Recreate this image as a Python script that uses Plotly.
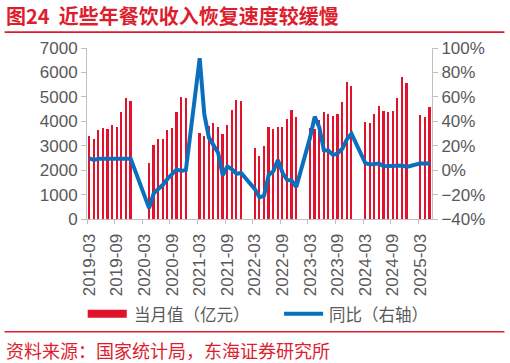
import plotly.graph_objects as go

# ---- data ----
months = []
for yr in range(2019, 2026):
    for m in range(1, 13):
        if (yr == 2019 and m < 3) or (yr == 2025 and m > 5):
            continue
        months.append(f"{yr}-{m:02d}")

revenue_2019 = [3390, 3283, 3639, 3721, 3666, 3858, 3776, 4391, 4966, 4843]
revenue_2020 = [None, None, None, 2298, 3023, 3283, 3283, 3639, 3721, 4391, 4993, 4966]
revenue_2021 = [None, None, 3502, 3379, 3817, 3926, 3748, 3461, 3830, 4473, 4856, 4843]
revenue_2022 = [None, None, 2927, 2599, 2996, 3762, 3680, 3748, 3762, 4104, 4446, 4172]
revenue_2023 = [None, None, 3722, 3684, 4062, 4390, 4295, 4213, 4290, 4802, 5595, 5431]
revenue_2024 = [None, None, 3981, 3926, 4282, 4610, 4419, 4364, 4432, 4952, 5814, 5568]
revenue_2025 = [None, None, 4241, 4172, 4583]

yoy_2019 = [9.7, 8.4, 9.3, 9.4, 9.4, 9.4, 9.4, 9.0, 9.2, 9.4]
yoy_2020 = [None, None, None, -31.1, -19.0, -15.5, -12.0, -7.2, -3.0, 0.6, -0.6, 0.2]
yoy_2021 = [None, None, 91.6, 45.8, 26.6, 20.4, 14.3, -4.2, 2.9, 0.8, -3.0, -2.3]
yoy_2022 = [None, None, -15.5, -22.4, -20.8, -3.9, -1.0, 8.4, -2.1, -8.0, -8.5, -13.8]
yoy_2023 = [None, None, 26.8, 43.8, 35.1, 16.3, 15.9, 12.4, 13.8, 17.5, 25.3, 29.8]
yoy_2024 = [None, None, 5.8, 4.6, 5.0, 5.4, 3.2, 3.3, 3.1, 3.2, 3.8, 2.7]
yoy_2025 = [None, None, 5.6, 5.2, 5.9]

revenue = revenue_2019 + revenue_2020 + revenue_2021 + revenue_2022 + revenue_2023 + revenue_2024 + revenue_2025
yoy = yoy_2019 + yoy_2020 + yoy_2021 + yoy_2022 + yoy_2023 + yoy_2024 + yoy_2025

title_text = "图24  近些年餐饮收入恢复速度较缓慢"
source_text = "资料来源：国家统计局，东海证券研究所"
bar_name = "当月值（亿元）"
line_name = "同比（右轴）"

# ---- styling ----
RED = "#E3122C"
TITLE_RED = "#DC1E2E"
BLUE = "#0A70BE"
GRAY = "#595959"
AXIS = "#BFBFBF"
CJK = "Noto Sans CJK SC"
NUM = "Liberation Sans, Arial"

W, H = 510, 363
L, R, T, B = 87.3, 431.7, 48.3, 219.0

def px(X):
    return (X - L) / (R - L)

def py(Y):
    return (B - Y) / (B - T)

idx = list(range(len(months)))
tick_idx = idx[::6]
tick_txt = [months[i] for i in tick_idx]

fig = go.Figure()
fig.add_trace(go.Bar(x=idx, y=revenue, width=0.36, marker=dict(color=RED, line=dict(width=0)),
                     name=bar_name, showlegend=False))
fig.add_trace(go.Scatter(x=idx, y=yoy, yaxis="y2", mode="lines", connectgaps=True,
                         line=dict(color=BLUE, width=4), name=line_name, showlegend=False))

fig.update_layout(
    width=W, height=H,
    margin=dict(l=L, r=W - R, t=T, b=H - B, pad=0),
    paper_bgcolor="white", plot_bgcolor="white",
    bargap=0,
    xaxis=dict(range=[-0.5, len(months) - 0.5], tickmode="array", tickvals=tick_idx, ticktext=tick_txt,
               tickangle=-90, ticks="", showgrid=False, zeroline=False,
               showline=True, linecolor=AXIS, linewidth=1,
               tickfont=dict(family=NUM, size=17, color=GRAY), ticklabelstandoff=7,
               minor=dict(tickmode="array", tickvals=[i - 0.5 for i in tick_idx],
                          ticks="outside", ticklen=4, tickcolor=AXIS, tickwidth=1, showgrid=False)),
    yaxis=dict(range=[0, 7000], dtick=1000, showgrid=False, zeroline=False,
               showline=True, linecolor=AXIS, linewidth=1, ticks="outside", ticklen=5,
               tickcolor=AXIS, tickfont=dict(family=NUM, size=17, color=GRAY)),
    yaxis2=dict(range=[-40, 100], dtick=20, ticksuffix="%", overlaying="y", side="right",
                showgrid=False, zeroline=False, showline=True, linecolor=AXIS, linewidth=1,
                ticks="outside", ticklen=5, tickcolor=AXIS,
                tickfont=dict(family=NUM, size=17, color=GRAY)),
)

shapes = [
    dict(type="line", xref="paper", yref="paper", x0=px(5), x1=px(504), y0=py(32.5), y1=py(32.5),
         line=dict(color=TITLE_RED, width=1.8)),
    dict(type="line", xref="paper", yref="paper", x0=px(5), x1=px(504), y0=py(331.5), y1=py(331.5),
         line=dict(color=TITLE_RED, width=1.5)),
    dict(type="rect", xref="paper", yref="paper", x0=px(88), x1=px(127), y0=py(317.5), y1=py(309.5),
         fillcolor=RED, line=dict(width=0)),
    dict(type="line", xref="paper", yref="paper", x0=px(284), x1=px(323), y0=py(313.5), y1=py(313.5),
         line=dict(color=BLUE, width=4)),
]
fig.update_layout(shapes=shapes)

ann = [
    dict(text=f"<b>{title_text}</b>", x=px(4), y=py(16), xanchor="left", yanchor="middle",
         font=dict(family=CJK, size=20, color=TITLE_RED)),
    dict(text=source_text, x=px(4), y=py(350), xanchor="left", yanchor="middle",
         font=dict(family=CJK, size=18, color=TITLE_RED)),
    dict(text=bar_name, x=px(132), y=py(314), xanchor="left", yanchor="middle",
         font=dict(family=CJK, size=16.5, color=GRAY)),
    dict(text=line_name, x=px(327), y=py(314), xanchor="left", yanchor="middle",
         font=dict(family=CJK, size=16.5, color=GRAY)),
]
for a in ann:
    a.update(xref="paper", yref="paper", showarrow=False)
fig.update_layout(annotations=ann)

fig.write_html("out.html", config={"displayModeBar": False},
               post_script="document.body.style.margin='0';document.body.style.overflow='hidden';")
